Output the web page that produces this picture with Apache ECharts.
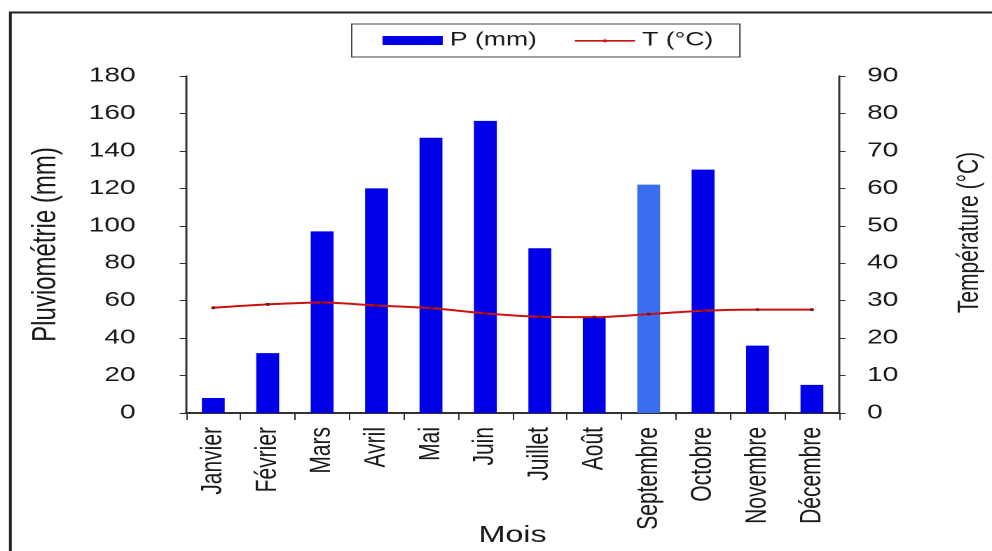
<!DOCTYPE html>
<html><head><meta charset="utf-8">
<script src="https://cdn.jsdelivr.net/npm/echarts@6/dist/echarts.min.js"></script>
<style>
html,body{margin:0;padding:0;background:#fff;overflow:hidden;width:992px;height:551px}
#c{width:708px;height:551px;transform:scaleX(1.4011);transform-origin:0 0}
</style>
</head><body><div id="c"></div>
<script>
const months = ['Janvier','Février','Mars','Avril','Mai','Juin','Juillet','Août','Septembre','Octobre','Novembre','Décembre'];
const precip = [8, 32, 97, 120, 147, 156, 88, 51, 122, 130, 36, 15];
const temp = [28.1, 29.0, 29.5, 28.7, 28.0, 26.6, 25.7, 25.6, 26.4, 27.3, 27.6, 27.6];
const barColors = ['#0000e8','#0000e8','#0000e8','#0000e8','#0000e8','#0000e8','#0000e8','#0000e8','#3a6ef0','#0000e8','#0000e8','#0000e8'];

const sans = '"Liberation Sans", Arial, sans-serif';
const ink = '#1a1a1a';

const chart = echarts.init(document.getElementById('c'), null, {renderer:'canvas', devicePixelRatio: 2});
chart.setOption({
  animation: false,
  backgroundColor: '#fff',
  graphic: [{type:'rect', shape:{x:7.4,y:12.5,width:800,height:600}, style:{fill:'none', stroke:'#222', lineWidth:2}, z:-1}],
  legend: {
    left: 251, top: 24,
    padding: [7, 19, 7, 22],
    borderColor: '#444', borderWidth: 1, borderRadius: 0,
    itemWidth: 43, itemHeight: 9, itemGap: 27,
    textStyle: {fontFamily: sans, fontSize: 19, color: ink},
    data: [
      {name:'P (mm)', icon:'rect', itemStyle:{color:'#0000e8', borderWidth:0}},
      {name:'T (°C)', icon:'path://M0,0 L0.01,0 Z M0,4 L44,4 L44,5.6 L0,5.6 Z M21,3.3 L23,3.3 L23,6.3 L21,6.3 Z M44,9 L43.99,9 Z', itemStyle:{color:'#cc1111', borderWidth:0}}
    ]
  },
  grid: {left: 132.8, right: 109.1, top: 76, bottom: 138, outerBoundsMode: 'none', containLabel: false},
  xAxis: {
    type: 'category', data: months,
    axisLine: {lineStyle:{color:'#333', width:2}},
    axisTick: {show:true, length:7, lineStyle:{color:'#333', width:1}},
    axisLabel: {rotate: 90, margin: 14, fontFamily: sans, fontSize: 21, color: ink},
    name: 'Mois', nameLocation: 'middle', nameGap: 111, nameMoveOverlap: false,
    nameTextStyle: {fontFamily: sans, fontSize: 23, color: ink}
  },
  yAxis: [{
    type: 'value', min: 0, max: 180, interval: 20,
    splitLine: {show:false},
    axisLine: {show:true, lineStyle:{color:'#333', width:1.5}},
    axisTick: {show:true, length:4.5, lineStyle:{color:'#333'}},
    axisLabel: {margin: 36, fontFamily: sans, fontSize: 20, color: ink},
    name: 'Pluviométrie (mm)', nameLocation: 'middle', nameGap: 88, nameRotate: 90, nameMoveOverlap: false,
    nameTextStyle: {fontFamily: sans, fontSize: 24, color: ink}
  },{
    type: 'value', min: 0, max: 90, interval: 10, position: 'right',
    splitLine: {show:false},
    axisLine: {show:true, lineStyle:{color:'#333', width:1.5}},
    axisTick: {show:true, length:4.5, lineStyle:{color:'#333'}},
    axisLabel: {margin: 20, fontFamily: sans, fontSize: 20, color: ink},
    name: 'Température (°C)', nameLocation: 'middle', nameGap: 83, nameRotate: 90, nameMoveOverlap: false,
    nameTextStyle: {fontFamily: sans, fontSize: 21, color: ink, padding: [0, 0, 0, 24]}
  }],
  series: [{
    name: 'P (mm)', type: 'bar', yAxisIndex: 0, barWidth: '42%',
    data: precip.map((v,i)=>({value:v, itemStyle:{color:barColors[i]}})),
    itemStyle: {color:'#0000e8'}
  },{
    name: 'T (°C)', type: 'line', yAxisIndex: 1, data: temp, smooth: 0.3,
    symbol: 'circle', symbolSize: 3,
    lineStyle: {color:'#cc1111', width: 2},
    itemStyle: {color:'#7a1010'}
  }]
});
</script></body></html>
